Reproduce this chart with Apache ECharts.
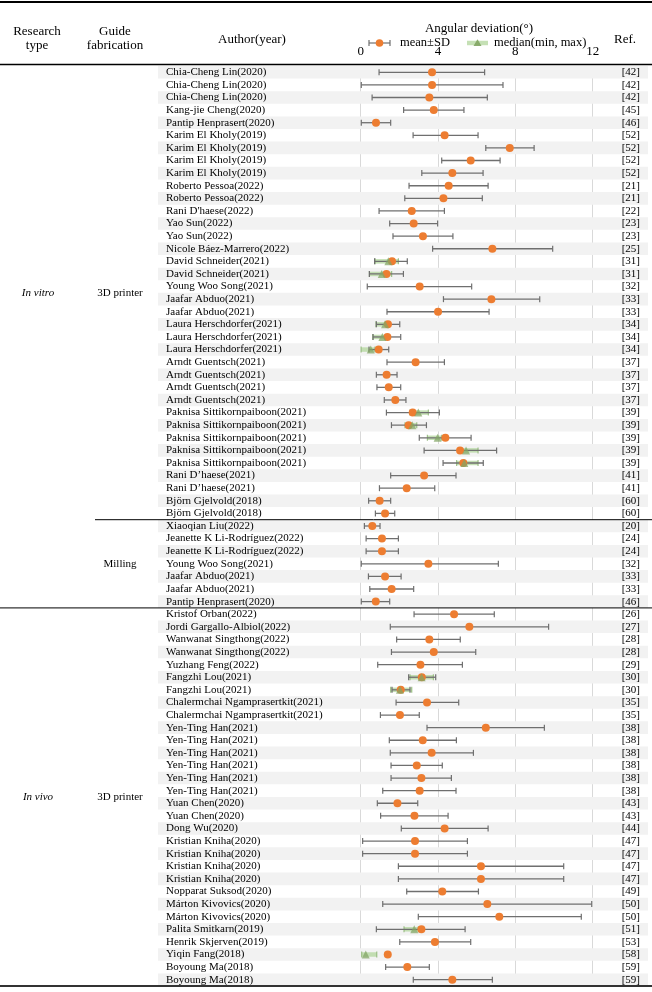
<!DOCTYPE html>
<html>
<head>
<meta charset="utf-8">
<script src="https://cdn.jsdelivr.net/npm/echarts@6/dist/echarts.min.js"></script>
<style>html,body{margin:0;padding:0;background:#fff}#c{width:652px;height:992px}</style>
</head>
<body>
<div id="c"></div>
<script>
const authors = [
"Chia-Cheng Lin(2020)","Chia-Cheng Lin(2020)","Chia-Cheng Lin(2020)","Kang-jie Cheng(2020)","Pantip Henprasert(2020)",
"Karim El Kholy(2019)","Karim El Kholy(2019)","Karim El Kholy(2019)","Karim El Kholy(2019)","Roberto Pessoa(2022)",
"Roberto Pessoa(2022)","Rani D'haese(2022)","Yao Sun(2022)","Yao Sun(2022)","Nicole Báez-Marrero(2022)",
"David Schneider(2021)","David Schneider(2021)","Young Woo Song(2021)","Jaafar Abduo(2021)","Jaafar Abduo(2021)",
"Laura Herschdorfer(2021)","Laura Herschdorfer(2021)","Laura Herschdorfer(2021)","Arndt Guentsch(2021)","Arndt Guentsch(2021)",
"Arndt Guentsch(2021)","Arndt Guentsch(2021)","Paknisa Sittikornpaiboon(2021)","Paknisa Sittikornpaiboon(2021)","Paknisa Sittikornpaiboon(2021)",
"Paknisa Sittikornpaiboon(2021)","Paknisa Sittikornpaiboon(2021)","Rani D’haese(2021)","Rani D’haese(2021)","Björn Gjelvold(2018)",
"Björn Gjelvold(2018)",
"Xiaoqian Liu(2022)","Jeanette K Li-Rodríguez(2022)","Jeanette K Li-Rodríguez(2022)","Young Woo Song(2021)","Jaafar Abduo(2021)",
"Jaafar Abduo(2021)","Pantip Henprasert(2020)",
"Kristof Orban(2022)","Jordi Gargallo-Albiol(2022)","Wanwanat Singthong(2022)","Wanwanat Singthong(2022)","Yuzhang Feng(2022)",
"Fangzhi Lou(2021)","Fangzhi Lou(2021)","Chalermchai Ngamprasertkit(2021)","Chalermchai Ngamprasertkit(2021)","Yen-Ting Han(2021)",
"Yen-Ting Han(2021)","Yen-Ting Han(2021)","Yen-Ting Han(2021)","Yen-Ting Han(2021)","Yen-Ting Han(2021)",
"Yuan Chen(2020)","Yuan Chen(2020)","Dong Wu(2020)","Kristian Kniha(2020)","Kristian Kniha(2020)",
"Kristian Kniha(2020)","Kristian Kniha(2020)","Nopparat Suksod(2020)","Márton Kivovics(2020)","Márton Kivovics(2020)",
"Palita Smitkarn(2019)","Henrik Skjerven(2019)","Yiqin Fang(2018)","Boyoung Ma(2018)","Boyoung Ma(2018)"
];
const refs = [
"[42]","[42]","[42]","[45]","[46]","[52]","[52]","[52]","[52]","[21]",
"[21]","[22]","[23]","[23]","[25]","[31]","[31]","[32]","[33]","[33]",
"[34]","[34]","[34]","[37]","[37]","[37]","[37]","[39]","[39]","[39]",
"[39]","[39]","[41]","[41]","[60]","[60]",
"[20]","[24]","[24]","[32]","[33]","[33]","[46]",
"[26]","[27]","[28]","[28]","[29]","[30]","[30]","[35]","[35]","[38]",
"[38]","[38]","[38]","[38]","[38]","[43]","[43]","[44]","[47]","[47]",
"[47]","[47]","[49]","[50]","[50]","[51]","[53]","[58]","[59]","[59]"
];
const meanVals = [
3.69,3.69,3.55,3.78,0.79,4.34,7.71,5.69,4.74,4.55,
4.28,2.64,2.74,3.22,6.81,1.62,1.33,3.05,6.76,4.00,
1.41,1.38,0.93,2.84,1.34,1.45,1.79,2.69,2.48,4.38,
5.14,5.31,3.28,2.38,0.98,1.26,
0.60,1.10,1.10,3.50,1.26,1.60,0.78,
4.83,5.62,3.55,3.78,3.09,3.16,2.07,3.43,2.03,6.47,
3.21,3.67,2.90,3.14,3.05,1.90,2.78,4.34,2.81,2.81,
6.22,6.22,4.22,6.55,7.17,3.14,3.84,1.40,2.41,4.74
];
const sdLow = [
0.95,0.03,0.59,2.22,0.03,2.71,6.47,4.19,3.16,2.50,
2.28,0.95,1.50,1.67,3.72,0.72,0.45,0.34,4.28,1.36,
0.81,0.64,0.43,1.36,0.81,0.84,1.22,1.33,1.59,3.03,
3.28,4.26,1.55,0.97,0.41,0.76,
0.19,0.28,0.28,0.03,0.40,0.47,0.03,
2.76,1.53,1.86,1.59,0.88,2.48,1.62,1.83,1.02,3.43,
1.48,1.53,1.57,1.57,1.14,0.86,1.03,2.10,0.10,0.10,
1.95,1.95,2.38,1.14,2.98,0.81,2.02,null,1.29,2.72
];
const sdHigh = [
6.41,7.36,6.55,5.34,1.55,6.07,8.97,7.21,6.33,6.59,
6.29,4.33,3.98,4.77,9.93,2.41,2.21,5.74,9.26,6.64,
2.02,2.07,1.45,4.33,1.88,2.07,2.34,4.07,3.40,5.71,
7.03,6.34,4.93,3.83,1.55,1.76,
1.00,1.95,1.95,7.12,2.09,2.74,1.50,
6.91,9.72,5.15,5.95,5.26,3.88,2.55,5.07,3.03,9.50,
4.95,5.83,4.22,4.69,4.93,2.95,4.52,6.59,5.52,5.52,
10.50,10.50,6.09,11.95,11.41,5.40,5.69,null,3.55,6.81
];
// rows (0-based) with median(min, max)
const medRows = [15,16,20,21,22,27,28,29,30,31,48,49,68,70];
const medVals = [1.43,1.09,1.26,1.12,0.52,2.98,2.67,3.98,5.45,5.36,3.15,2.03,2.77,0.26];
const medMin  = [0.74,0.45,0.79,0.62,0.02,2.55,2.29,3.45,5.14,4.96,2.55,1.55,2.24,0.05];
const medMax  = [1.95,1.60,1.48,1.34,0.74,3.50,2.90,4.19,6.07,6.07,3.76,2.64,2.98,0.83];
const xTicks = [0,4,8,12];

const N = authors.length;
const GL = 360.7, GR = 592.7, GT = 66, GB = 986;
const RH = (GB - GT) / N;
const FONT = "'Liberation Serif','Times New Roman',serif";
const ORANGE = '#ED7D31', BARC = '#6f6f6f', LGREEN = 'rgba(178,214,156,0.75)', GREEN = 'rgba(130,165,100,0.92)';

const rowIdx = authors.map((_, i) => i);
const stripeData = rowIdx.filter(i => i % 2 === 0).map(i => [0, i]);
const sdData = rowIdx.filter(i => sdLow[i] != null).map(i => [sdLow[i], sdHigh[i], i]);
const meanData = rowIdx.map(i => [meanVals[i], i]);
const medRangeData = medRows.map((r, k) => [medMin[k], medMax[k], r]);
const medData = medRows.map((r, k) => [medVals[k], r]);

function barRender(color, lw, cap, capColor) {
  return function (params, api) {
    const y = api.value(2);
    const p1 = api.coord([api.value(0), y]);
    const p2 = api.coord([api.value(1), y]);
    return {
      type: 'group',
      children: [
        {type: 'line', shape: {x1: p1[0], y1: p1[1], x2: p2[0], y2: p2[1]}, style: {stroke: color, lineWidth: lw}},
        {type: 'line', shape: {x1: p1[0], y1: p1[1] - cap, x2: p1[0], y2: p1[1] + cap}, style: {stroke: capColor, lineWidth: 1.2}},
        {type: 'line', shape: {x1: p2[0], y1: p2[1] - cap, x2: p2[0], y2: p2[1] + cap}, style: {stroke: capColor, lineWidth: 1.2}}
      ]
    };
  };
}

const chart = echarts.init(document.getElementById('c'), null, {renderer: 'canvas'});
const T = (text, x, y, opt) => Object.assign({
  type: 'text', x: x, y: y,
  style: Object.assign({text: text, fill: '#000', font: '13px ' + FONT, textAlign: 'center', textVerticalAlign: 'middle'}, opt || {})
});
const L = (x1, y1, x2, y2, lw, c) => ({type: 'line', shape: {x1, y1, x2, y2}, style: {stroke: c || '#000', lineWidth: lw}, z: 100});

const option = {
  animation: false,
  backgroundColor: '#fff',
  grid: {left: GL, right: 652 - GR, top: GT, bottom: 992 - GB, containLabel: false},
  xAxis: {
    type: 'value', position: 'top', min: 0, max: 12, interval: 4,
    axisLine: {show: false}, axisTick: {show: false},
    axisLabel: {fontFamily: FONT, fontSize: 13, color: '#000', margin: 8},
    splitLine: {show: true, lineStyle: {color: '#d9d9d9', width: 1}}
  },
  yAxis: [
    {type: 'category', inverse: true, data: authors,
     axisLine: {show: false}, axisTick: {show: false}, splitLine: {show: false},
     axisLabel: {interval: 0, align: 'left', margin: GL - 166, fontFamily: FONT, fontSize: 11, color: '#000'}},
    {type: 'category', inverse: true, position: 'right', data: refs,
     axisLine: {show: false}, axisTick: {show: false}, splitLine: {show: false},
     axisLabel: {interval: 0, align: 'right', margin: 640 - GR, fontFamily: FONT, fontSize: 11, color: '#000'}}
  ],
  series: [
    {type: 'custom', name: 'stripes', clip: false, z: 0, silent: true,
     data: stripeData, encode: {x: 0, y: 1},
     renderItem: function (params, api) {
       const c = api.coord([0, api.value(1)]);
       const h = api.size([0, 1])[1];
       return {type: 'rect', shape: {x: 158, y: c[1] - h / 2, width: 490, height: h}, style: {fill: '#f2f2f2'}};
     }},
    {type: 'custom', name: 'median range', z: 2, clip: false,
     data: medRangeData, encode: {x: [0, 1], y: 2},
     renderItem: barRender(LGREEN, 4.5, 3, 'rgba(140,180,115,0.8)')},
    {type: 'custom', name: 'mean±SD bar', z: 3, clip: false,
     data: sdData, encode: {x: [0, 1], y: 2},
     renderItem: barRender(BARC, 1.3, 3, BARC)},
    {type: 'scatter', name: 'mean', z: 4, data: meanData, symbol: 'circle', symbolSize: 8,
     itemStyle: {color: ORANGE, opacity: 1}},
    {type: 'scatter', name: 'median', z: 5, data: medData, symbol: 'triangle', symbolSize: 8,
     itemStyle: {color: GREEN}}
  ],
  graphic: [
    L(0, 2, 652, 2, 2.2),
    L(0, 64.5, 652, 64.5, 1.3),
    L(95, GT + 36 * RH, 652, GT + 36 * RH, 1),
    L(0, GT + 43 * RH, 652, GT + 43 * RH, 1),
    L(0, GB, 652, GB, 2, '#333'),
    T('Research\ntype', 37, 39, {lineHeight: 14}),
    T('Guide\nfabrication', 115, 39, {lineHeight: 14}),
    T('Author(year)', 252, 40),
    T('Angular deviation(°)', 479, 29),
    T('Ref.', 625, 40),
    T('In vitro', 38, GT + 18 * RH, {font: 'italic 11px ' + FONT}),
    T('3D printer', 120, GT + 18 * RH, {font: '11px ' + FONT}),
    T('Milling', 120, GT + 39.5 * RH, {font: '11px ' + FONT}),
    T('In vivo', 38, GT + 58 * RH, {font: 'italic 11px ' + FONT}),
    T('3D printer', 120, GT + 58 * RH, {font: '11px ' + FONT}),
    // legend: mean±SD
    L(369, 43, 390, 43, 1.2, BARC),
    L(369, 40, 369, 46, 1.2, BARC),
    L(390, 40, 390, 46, 1.2, BARC),
    {type: 'circle', shape: {cx: 379.5, cy: 43, r: 3.8}, style: {fill: ORANGE}, z: 101},
    T('mean±SD', 400, 43, {textAlign: 'left', font: '12.5px ' + FONT}),
    // legend: median(min, max)
    {type: 'line', shape: {x1: 467, y1: 43, x2: 488, y2: 43}, style: {stroke: LGREEN, lineWidth: 4.5}, z: 100},
    {type: 'polygon', shape: {points: [[477.5, 39.3], [473.5, 46], [481.5, 46]]}, style: {fill: GREEN}, z: 101},
    T('median(min, max)', 494, 43, {textAlign: 'left', font: '12.5px ' + FONT})
  ]
};
chart.setOption(option);
</script>
</body>
</html>
